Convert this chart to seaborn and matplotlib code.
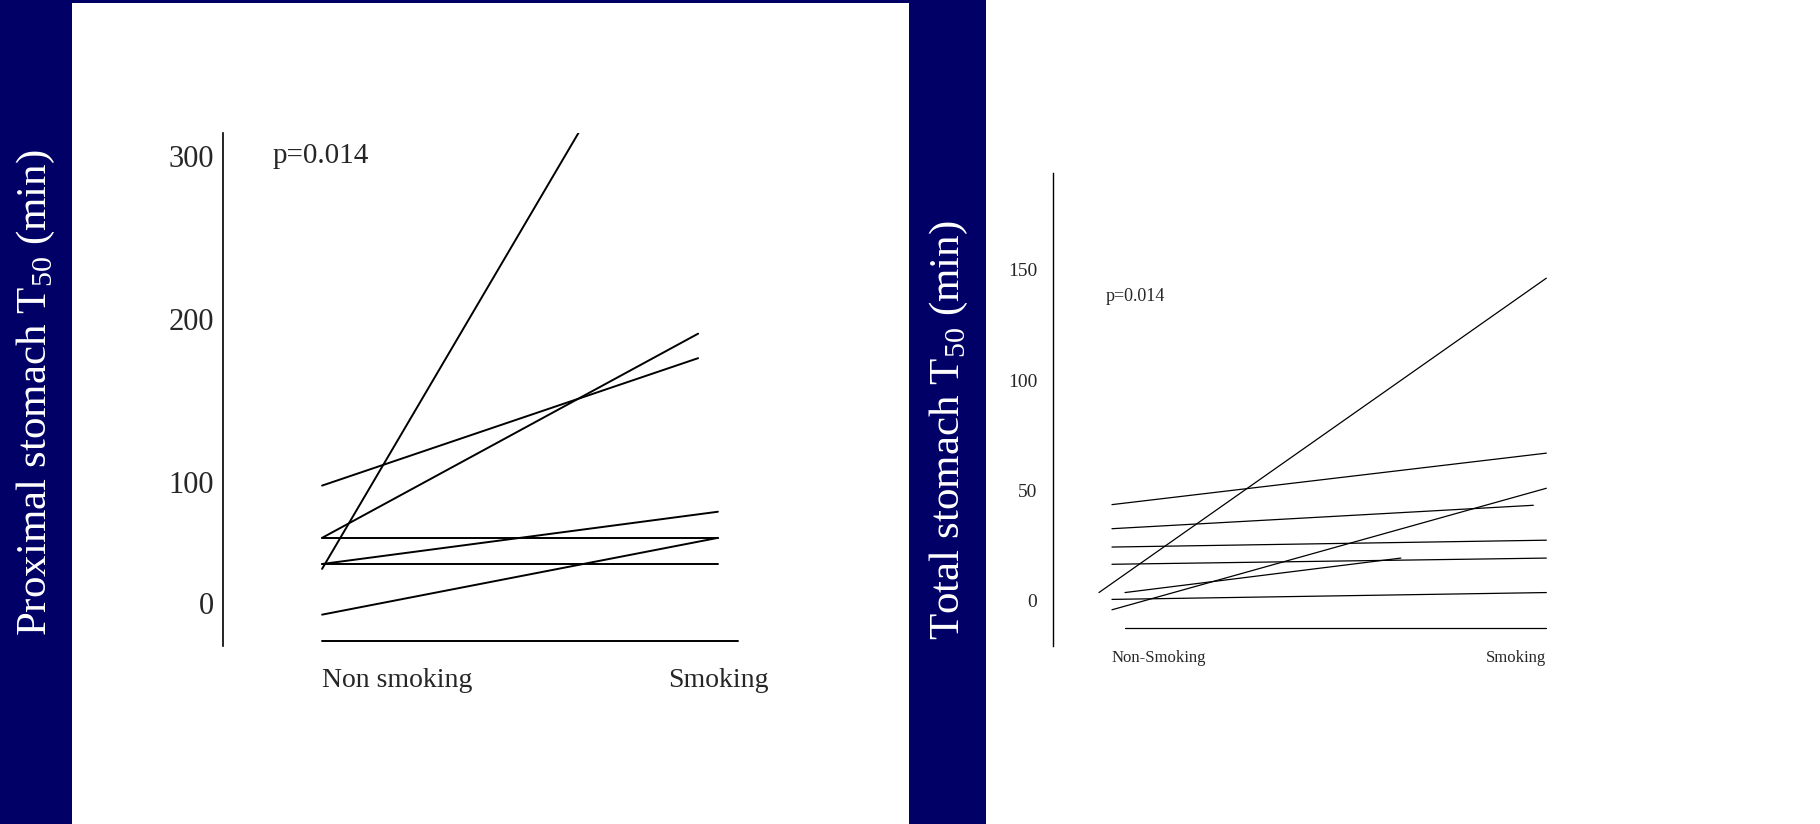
import numpy as np
import pandas as pd
import matplotlib
matplotlib.use("Agg")
import matplotlib.pyplot as plt
from matplotlib.patches import Rectangle
import seaborn as sns

# ---------- data (T50 in minutes, one line per subject) ----------
# proximal stomach
prox_x_start = [0, 0, 0, 0, 0, 0, 0, 0]
prox_x_end = [1, 0.95, 0.95, 1, 1, 1, 1, 1.05]
prox_non = [47, 98, 66, 66, 50, 50, 19, 3]
prox_smk = [459, 176, 191, 66, 82, 50, 66, 3]   # first one runs off the top of the axis

# total stomach
total_x_start = [-0.03, 0, 0, 0, 0, 0.03, 0, 0, 0.03]
total_x_end = [1, 1, 0.97, 1, 1, 0.665, 1, 1, 1]
total_non = [3.8, 43.6, 32.7, 24.4, 16.6, 3.8, 0.7, -4.0, -12.2]
total_smk = [146.1, 66.9, 43.3, 27.5, 19.4, 19.4, 3.8, 51.0, -12.2]

prox_ticklabels = ["0", "100", "200", "300"]
total_ticks = [0, 50, 100, 150]
prox_xlabels = ["Non smoking", "Smoking"]
total_xlabels = ["Non-Smoking", "Smoking"]
p_value = "p=0.014"


def to_long(x0, x1, y0, y1):
    rows = []
    for i in range(len(y0)):
        rows.append({"subject": i, "x": x0[i], "T50": y0[i]})
        rows.append({"subject": i, "x": x1[i], "T50": y1[i]})
    return pd.DataFrame(rows)


prox_df = to_long(prox_x_start, prox_x_end, prox_non, prox_smk)
total_df = to_long(total_x_start, total_x_end, total_non, total_smk)

sns.set_style("white")
plt.rcParams["font.family"] = ["Liberation Serif", "DejaVu Serif"]
plt.rcParams["mathtext.fontset"] = "custom"
plt.rcParams["mathtext.rm"] = "Liberation Serif"

navy = "#000066"
fig = plt.figure(figsize=(18.2, 8.24), dpi=100, facecolor=navy)

# white slide panels
fig.add_artist(Rectangle((0.0396, 0.0), 0.4599, 0.9964, transform=fig.transFigure,
                         facecolor="white", edgecolor="none", zorder=0))
fig.add_artist(Rectangle((0.5418, 0.0), 0.4582, 1.0, transform=fig.transFigure,
                         facecolor="white", edgecolor="none", zorder=0))

#----------Proximal stomach----------
ax1 = fig.add_axes([0.1228, 0.2164, 0.2934, 0.6225])
ax1.set_facecolor("none")
sns.lineplot(data=prox_df, x="x", y="T50", units="subject", estimator=None,
             color="black", linewidth=1.4, legend=False, ax=ax1)
ax1.set_xlim(-0.249, 1.1)
ax1.set_ylim(0, 314)
# the "0" label sits well above the real zero on the original slide
ax1.set_yticks([26, 100, 200, 300], prox_ticklabels)
ax1.set_xticks([0, 1], prox_xlabels)
ax1.get_xticklabels()[0].set_horizontalalignment("left")
ax1.tick_params(axis="y", length=0, pad=7, labelsize=22)
ax1.tick_params(axis="x", length=0, pad=16, labelsize=20)
ax1.text(-0.126, 300, p_value, fontsize=21, ha="left", va="center")
ax1.set_xlabel("")
ax1.set_ylabel("")
sns.despine(ax=ax1, bottom=True)
ax1.spines["left"].set_linewidth(1.2)
ax1.spines["left"].set_color("black")

#----------Total stomach----------
ax2 = fig.add_axes([0.5784, 0.216, 0.2951, 0.5735])
ax2.set_facecolor("none")
sns.lineplot(data=total_df, x="x", y="T50", units="subject", estimator=None,
             color="black", linewidth=0.9, legend=False, ax=ax2)
ax2.set_xlim(-0.1365, 1.1)
ax2.set_ylim(-20.4, 193.5)
ax2.set_yticks(total_ticks, [str(t) for t in total_ticks])
ax2.set_xticks([0, 1], total_xlabels)
ax2.get_xticklabels()[0].set_horizontalalignment("left")
ax2.get_xticklabels()[1].set_horizontalalignment("right")
ax2.tick_params(axis="y", length=0, pad=11, labelsize=14)
ax2.tick_params(axis="x", length=0, pad=3, labelsize=12)
ax2.text(-0.014, 137.8, p_value, fontsize=13, ha="left", va="center")
ax2.set_xlabel("")
ax2.set_ylabel("")
sns.despine(ax=ax2, bottom=True)
ax2.spines["left"].set_linewidth(1.0)
ax2.spines["left"].set_color("black")

# axis titles sit on the navy strips
fig.text(0.020, 0.5237, r"Proximal stomach T$_{50}$ (min)", rotation=90,
         color="white", fontsize=31, ha="center", va="center")
fig.text(0.5214, 0.4775, r"Total stomach T$_{50}$ (min)", rotation=90,
         color="white", fontsize=31, ha="center", va="center")

plt.savefig("out.png", dpi=100, facecolor=navy)
